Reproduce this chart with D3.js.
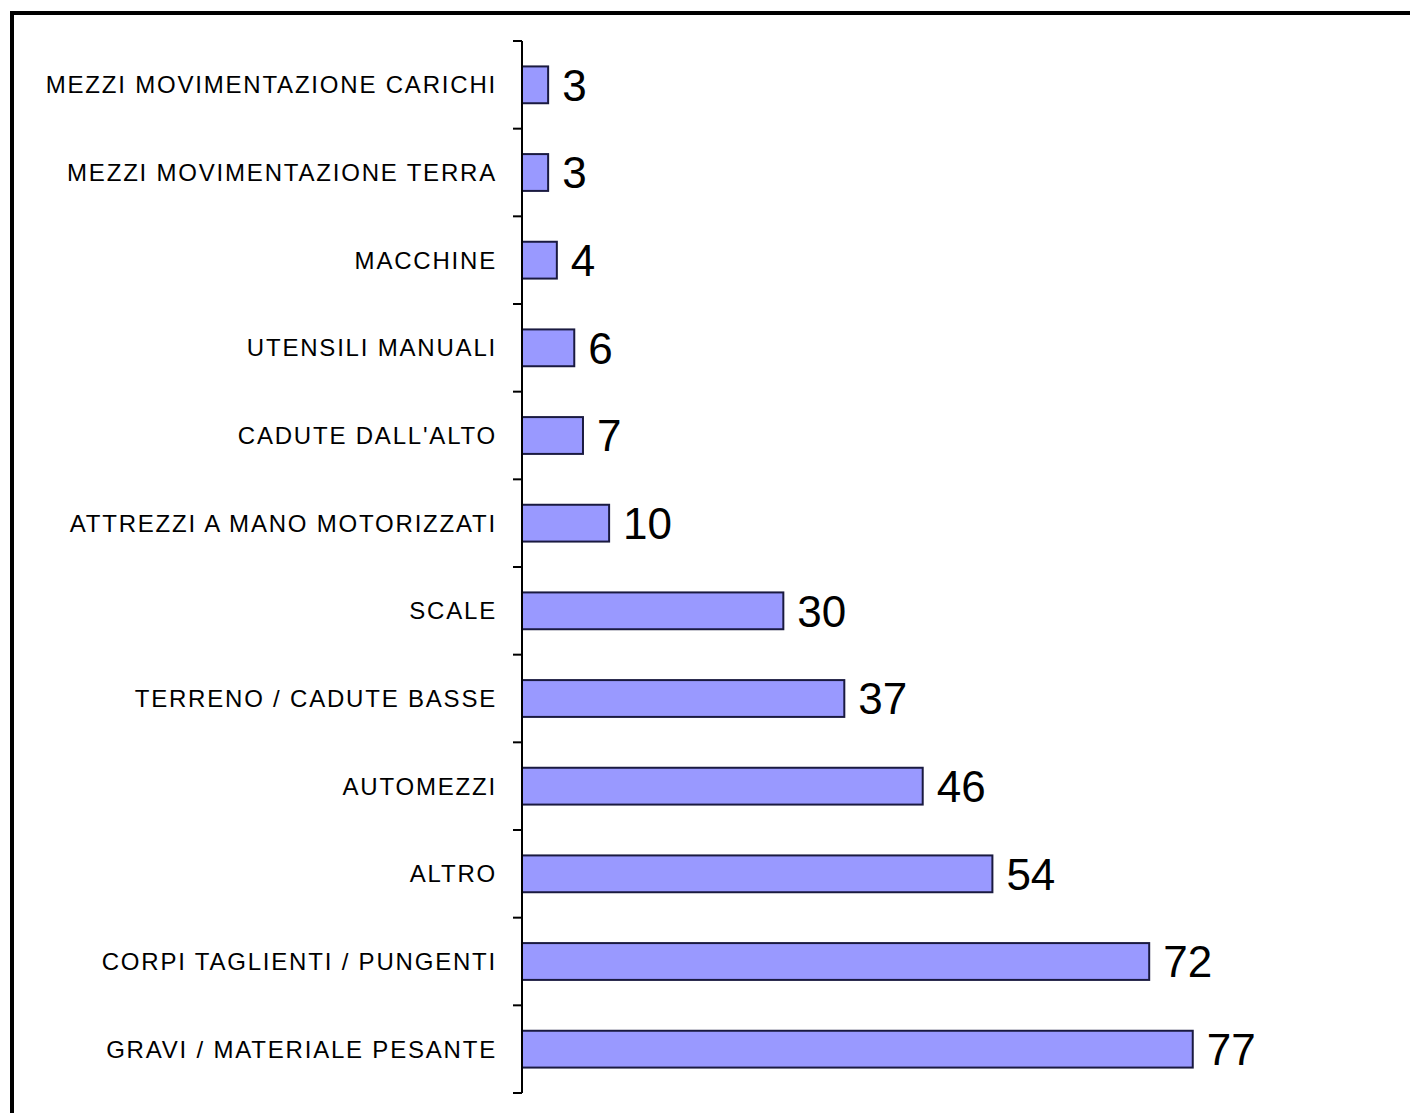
<!DOCTYPE html>
<html>
<head>
<meta charset="utf-8">
<script src="https://cdn.jsdelivr.net/npm/d3@7"></script>
<style>
  body { margin: 0; background: #fff; }
  svg { display: block; }
</style>
</head>
<body>
<svg id="chart"></svg>
<script>
// categories top -> bottom
var categories = [
  "MEZZI MOVIMENTAZIONE CARICHI",
  "MEZZI MOVIMENTAZIONE TERRA",
  "MACCHINE",
  "UTENSILI MANUALI",
  "CADUTE DALL'ALTO",
  "ATTREZZI A MANO MOTORIZZATI",
  "SCALE",
  "TERRENO / CADUTE BASSE",
  "AUTOMEZZI",
  "ALTRO",
  "CORPI TAGLIENTI / PUNGENTI",
  "GRAVI / MATERIALE PESANTE"
];
var values = [3, 3, 4, 6, 7, 10, 30, 37, 46, 54, 72, 77];

var width = 1410, height = 1113;
var axisX = 522, plotTop = 41, plotBottom = 1093;

var svg = d3.select("#chart")
  .attr("width", width)
  .attr("height", height);

// outer frame (right and bottom edges run off the picture)
svg.append("rect")
  .attr("x", 12).attr("y", 13)
  .attr("width", 1420).attr("height", 1120)
  .attr("fill", "#fff")
  .attr("stroke", "#000")
  .attr("stroke-width", 4);

var inner = 0.58;
var y = d3.scaleBand()
  .domain(categories)
  .range([plotTop, plotBottom])
  .paddingInner(inner)
  .paddingOuter(inner / 2);

var x = d3.scaleLinear()
  .domain([0, 90])
  .range([axisX, axisX + 784]);

// bars
svg.append("g")
  .selectAll("rect")
  .data(values)
  .join("rect")
    .attr("x", x(0))
    .attr("y", (d, i) => y(categories[i]))
    .attr("width", d => x(d) - x(0))
    .attr("height", y.bandwidth())
    .attr("fill", "#9999ff")
    .attr("stroke", "#1a1a40")
    .attr("stroke-width", 2);

// value labels
svg.append("g")
  .selectAll("text")
  .data(values)
  .join("text")
    .attr("x", d => x(d) + 14)
    .attr("y", (d, i) => y(categories[i]) + y.bandwidth() / 2)
    .attr("dy", "0.36em")
    .attr("font-family", "Liberation Sans, Arial, sans-serif")
    .attr("font-size", 44)
    .attr("fill", "#000")
    .text(d => d);

// category axis: line with ticks between the bands
var step = y.step();
var boundaries = d3.range(categories.length + 1).map(i => plotTop + i * step);

var axis = svg.append("g");
axis.append("line")
  .attr("x1", axisX).attr("x2", axisX)
  .attr("y1", plotTop).attr("y2", plotBottom)
  .attr("stroke", "#000")
  .attr("stroke-width", 2);
axis.selectAll("line.tick")
  .data(boundaries)
  .join("line")
    .attr("class", "tick")
    .attr("x1", axisX - 9).attr("x2", axisX)
    .attr("y1", d => d).attr("y2", d => d)
    .attr("stroke", "#000")
    .attr("stroke-width", 2);

axis.selectAll("text")
  .data(categories)
  .join("text")
    .attr("x", 497)
    .attr("y", d => y(d) + y.bandwidth() / 2)
    .attr("dy", "0.36em")
    .attr("text-anchor", "end")
    .attr("font-family", "Liberation Sans, Arial, sans-serif")
    .attr("font-size", 24)
    .attr("letter-spacing", "1.8px")
    .attr("fill", "#000")
    .text(d => d);
</script>
</body>
</html>
